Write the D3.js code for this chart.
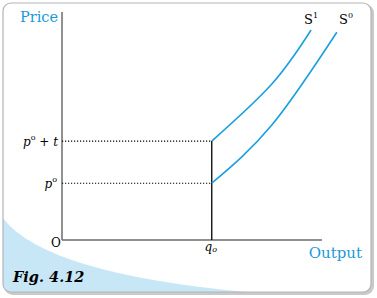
<!DOCTYPE html>
<html>
<head>
<meta charset="utf-8">
<script src="https://cdn.jsdelivr.net/npm/d3@7"></script>
<style>
  body { margin: 0; background: #fff; }
  svg text { font-family: "DejaVu Serif", serif; }
</style>
</head>
<body>
<svg id="chart" width="377" height="298"></svg>
<script>
// supply curves (output, price) in chart units
const s1Points = [[57.6, 43.4], [80.7, 68.4], [95.8, 92.1]];
const s0Points = [[57.6, 24.9], [80.7, 50.4], [105.7, 91.1]];
const q0 = 57.6;
const priceLevels = [43.4, 24.9];

const svg = d3.select('#chart');
const margin = {top: 12, right: 55, bottom: 58, left: 62};
const width = 377, height = 298;

const x = d3.scaleLinear().domain([0, 100]).range([margin.left, width - margin.right]);
const y = d3.scaleLinear().domain([0, 100]).range([height - margin.bottom, margin.top]);

// card frame with shadow
svg.append('rect')
    .attr('x', 4).attr('y', 4).attr('width', 370).attr('height', 291)
    .attr('rx', 9).attr('fill', '#c9c9c9');
svg.append('clipPath').attr('id', 'card')
    .append('rect')
    .attr('x', 3).attr('y', 3).attr('width', 368).attr('height', 289).attr('rx', 8);
svg.append('rect')
    .attr('x', 3).attr('y', 3).attr('width', 368).attr('height', 289)
    .attr('rx', 8).attr('fill', '#fff');

// blue corner wedge
svg.append('path')
    .attr('clip-path', 'url(#card)')
    .attr('d', 'M0,214 Q40,276 270,294 L0,294 Z')
    .attr('fill', '#c7e7f7');

svg.append('rect')
    .attr('x', 3).attr('y', 3).attr('width', 368).attr('height', 289)
    .attr('rx', 8).attr('fill', 'none').attr('stroke', '#b5b5b5').attr('stroke-width', 1.2);

// axes
svg.append('line')
    .attr('x1', x(0)).attr('x2', x(0)).attr('y1', y(100)).attr('y2', y(0))
    .attr('stroke', '#6d6d6d').attr('stroke-width', 1.5);
svg.append('line')
    .attr('x1', x(0)).attr('x2', x(100)).attr('y1', y(0)).attr('y2', y(0))
    .attr('stroke', '#6d6d6d').attr('stroke-width', 1.5);

// guides
svg.append('line')
    .attr('x1', x(q0)).attr('x2', x(q0)).attr('y1', y(priceLevels[0])).attr('y2', y(0))
    .attr('stroke', '#000').attr('stroke-width', 1.3);
svg.selectAll('line.guide')
    .data(priceLevels)
    .enter().append('line')
    .attr('class', 'guide')
    .attr('x1', x(0)).attr('x2', x(q0))
    .attr('y1', d => y(d)).attr('y2', d => y(d))
    .attr('stroke', '#000').attr('stroke-width', 1.2)
    .attr('stroke-dasharray', '1.2,1.8');

// supply curves
const line = d3.line()
    .x(d => x(d[0]))
    .y(d => y(d[1]))
    .curve(d3.curveNatural);
svg.selectAll('path.supply')
    .data([s1Points, s0Points])
    .enter().append('path')
    .attr('class', 'supply')
    .attr('d', line)
    .attr('fill', 'none')
    .attr('stroke', '#1a9fdf')
    .attr('stroke-width', 1.6);

// labels
const blue = '#1a9ad8';
svg.append('text').attr('x', 58).attr('y', 22).attr('text-anchor', 'end')
    .attr('font-size', 14.5).attr('fill', blue).text('Price');
svg.append('text').attr('x', 362).attr('y', 258).attr('text-anchor', 'end')
    .attr('font-size', 15).attr('fill', blue).text('Output');
svg.append('text').attr('x', 56).attr('y', 247).attr('text-anchor', 'middle')
    .attr('font-size', 12).attr('fill', '#000').text('O');

const q = svg.append('text').attr('x', x(q0) - 1).attr('y', 251).attr('text-anchor', 'middle')
    .attr('font-size', 12).attr('font-style', 'italic');
q.append('tspan').text('q');
q.append('tspan').attr('font-size', 8).attr('dy', 1).text('o');

const pt = svg.append('text').attr('x', 58).attr('y', y(priceLevels[0]) + 5).attr('text-anchor', 'end')
    .attr('font-size', 12);
pt.append('tspan').attr('font-style', 'italic').text('p');
pt.append('tspan').attr('font-size', 8).attr('dy', -6).text('o');
pt.append('tspan').attr('dy', 6).text(' + ');
pt.append('tspan').attr('font-style', 'italic').text('t');

const p0 = svg.append('text').attr('x', 57).attr('y', y(priceLevels[1]) + 5).attr('text-anchor', 'end')
    .attr('font-size', 12);
p0.append('tspan').attr('font-style', 'italic').text('p');
p0.append('tspan').attr('font-size', 8).attr('dy', -6).text('o');

const s1 = svg.append('text').attr('x', 304).attr('y', 24).attr('font-size', 13);
s1.append('tspan').text('S');
s1.append('tspan').attr('font-size', 8).attr('dy', -6).text('1');
const s0 = svg.append('text').attr('x', 339).attr('y', 24).attr('font-size', 13);
s0.append('tspan').text('S');
s0.append('tspan').attr('font-size', 8).attr('dy', -6).text('0');

svg.append('text').attr('x', 13).attr('y', 282)
    .attr('font-size', 14.5).attr('font-weight', 'bold').attr('font-style', 'italic')
    .text('Fig. 4.12');
</script>
</body>
</html>
